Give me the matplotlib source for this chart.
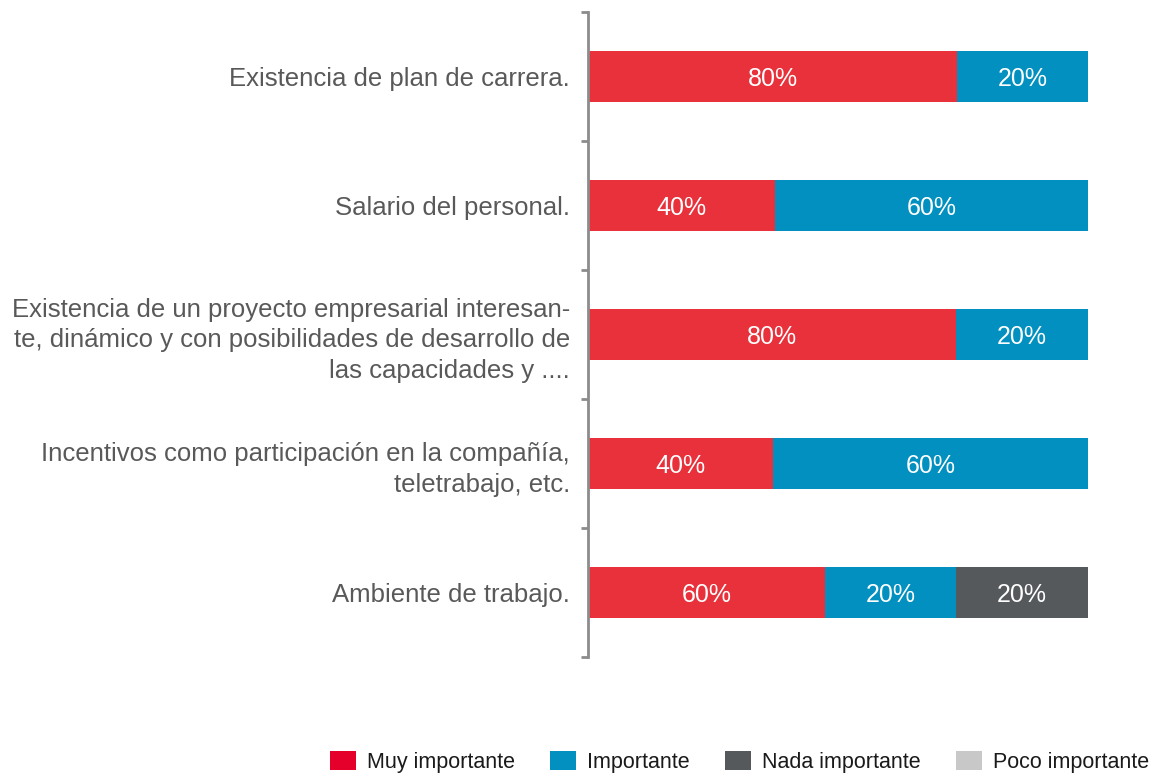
import matplotlib
matplotlib.use("Agg")
import matplotlib.pyplot as plt
from matplotlib.patches import Patch

plt.rcParams['font.family'] = ['Liberation Sans', 'DejaVu Sans']

# ---- data ----
categories = [
    "Existencia de plan de carrera.",
    "Salario del personal.",
    "Existencia de un proyecto empresarial interesan-\nte, dinámico y con posibilidades de desarrollo de\nlas capacidades y ....",
    "Incentivos como participación en la compañía,\nteletrabajo, etc.",
    "Ambiente de trabajo.",
]
series_names = ["Muy importante", "Importante", "Nada importante", "Poco importante"]
# displayed segment widths (as drawn in the reference, share of the full bar)
muy_importante = [73.8, 37.4, 73.6, 37.0, 47.4]
importante = [26.2, 62.6, 26.4, 63.0, 26.2]
nada_importante = [0, 0, 0, 0, 26.4]
poco_importante = [0, 0, 0, 0, 0]
# printed percentage labels
muy_labels = ["80%", "40%", "80%", "40%", "60%"]
imp_labels = ["20%", "60%", "20%", "60%", "20%"]
nada_labels = ["", "", "", "", "20%"]
poco_labels = ["", "", "", "", ""]

bar_colors = ["#E8313A", "#0190BF", "#55595C", "#C8C8C8"]
legend_colors = ["#E4002B", "#0190BF", "#55595C", "#C8C8C8"]

fig = plt.figure(figsize=(11.65, 7.74), dpi=100)
ax = fig.add_axes([588 / 1165, 1 - 657 / 774, 500 / 1165, (657 - 12) / 774])

y = list(range(len(categories)))
left = [0.0] * len(categories)
for vals, labs, col in zip(
    [muy_importante, importante, nada_importante, poco_importante],
    [muy_labels, imp_labels, nada_labels, poco_labels],
    bar_colors,
):
    ax.barh(y, vals, left=left, height=0.40, color=col, edgecolor="none")
    for i, (v, lab) in enumerate(zip(vals, labs)):
        if v > 0 and lab:
            ax.text(left[i] + v / 2, i, lab, ha="center", va="center_baseline",
                    color="white", fontsize=18)
    left = [l + v for l, v in zip(left, vals)]

ax.set_xlim(0, 100)
ax.set_ylim(len(categories) - 0.5, -0.5)

for s in ["top", "right", "bottom"]:
    ax.spines[s].set_visible(False)
ax.spines["left"].set_color("#8C8C8C")
ax.spines["left"].set_linewidth(2)
ax.set_xticks([])

ax.set_yticks([i - 0.5 for i in range(len(categories) + 1)])
ax.set_yticklabels([])
ax.tick_params(axis="y", which="major", length=5, width=2, color="#8C8C8C", direction="out")
ax.set_yticks(y, minor=True)
ax.set_yticklabels(categories, minor=True, fontsize=18.5, color="#595959",
                   ha="right", linespacing=1.36)
ax.tick_params(axis="y", which="minor", length=0, pad=13)

# legend items placed individually
handle_x = [330, 550, 725, 956]
for name, col, hx in zip(series_names, legend_colors, handle_x):
    fig.legend(handles=[Patch(facecolor=col, edgecolor="none")], labels=[name],
               loc="center left", bbox_to_anchor=(hx / 1165, 1 - 762 / 774),
               frameon=False, fontsize=15.5, handlelength=1.2, handleheight=1.0,
               handletextpad=0.5, borderpad=0, borderaxespad=0,
               labelcolor="#1A1A1A")

fig.savefig("out.png", dpi=100)
